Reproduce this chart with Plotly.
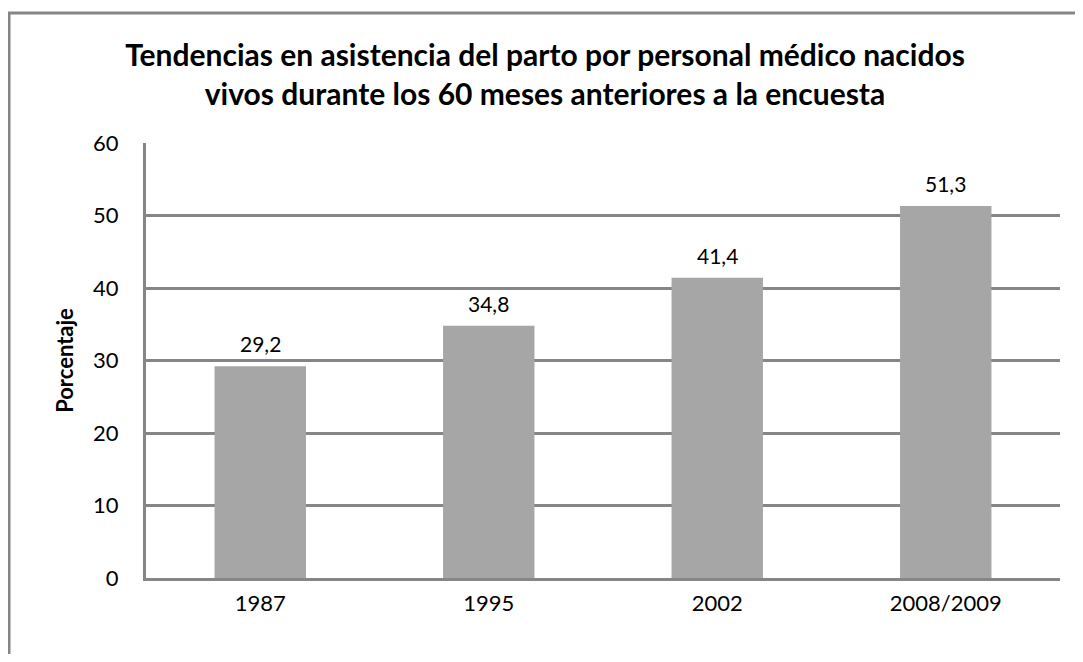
import plotly.graph_objects as go

# datos
anios = ['1987', '1995', '2002', '2008/2009']
porcentaje = [29.2, 34.8, 41.4, 51.3]
y_ticks = [0, 10, 20, 30, 40, 50, 60]

FONT = 'Lato'
GRID = '#868686'

# la página añade 8px de margen al cuerpo
W, H = 1067, 646
L, R, T, B = 138, 15, 135, 76
pw, ph = W - L - R, H - T - B

def px_x(v):  # pixel de la figura -> paper
    return (v - L) / pw

def px_y(v):
    return (H - B - v) / ph

fig = go.Figure()
fig.add_trace(go.Bar(
    x=anios, y=porcentaje,
    marker=dict(color='#A6A6A6', line=dict(width=0)),
    width=0.40,
    showlegend=False,
))

# etiquetas de datos encima de cada barra (x = índice de categoría)
for i, p in enumerate(porcentaje):
    fig.add_annotation(
        x=i, y=p, text=f'{p:.1f}'.replace('.', ','), showarrow=False,
        yanchor='bottom', yshift=8, font=dict(family=FONT, size=21, color='#000000'),
    )

fig.update_layout(
    width=W, height=H,
    margin=dict(l=L, r=R, t=T, b=B),
    paper_bgcolor='white', plot_bgcolor='white',
    separators=',.',
    font=dict(family=FONT, size=21, color='#000000'),
    title=dict(
        text='Tendencias en asistencia del parto por personal médico nacidos<br>vivos durante los 60 meses anteriores a la encuesta',
        x=px_x(537), xanchor='center', xref='paper', y=1 - 58 / H, yanchor='middle',
        font=dict(family=FONT, size=30, color='#000000', weight='bold'),
    ),
    xaxis=dict(
        type='category', range=[-0.5, len(anios) - 0.5],
        showgrid=False, showline=True, linecolor=GRID, linewidth=3,
        ticks='', tickfont=dict(size=22), ticklabelstandoff=4,
    ),
    yaxis=dict(
        range=[0, 60], tickvals=y_ticks, showgrid=True, gridcolor=GRID, gridwidth=3,
        showline=True, linecolor=GRID, linewidth=3, zeroline=False,
        ticks='', tickfont=dict(size=22), ticklabelstandoff=20,
        title=dict(text='<b>Porcentaje</b>', font=dict(size=22), standoff=14),
    ),
    shapes=[dict(
        type='rect', xref='paper', yref='paper',
        x0=px_x(1), x1=px_x(1095), y0=px_y(680), y1=px_y(5),
        line=dict(color='#868686', width=3), fillcolor='rgba(0,0,0,0)', layer='below',
    )],
)

fig.write_html('out.html')
